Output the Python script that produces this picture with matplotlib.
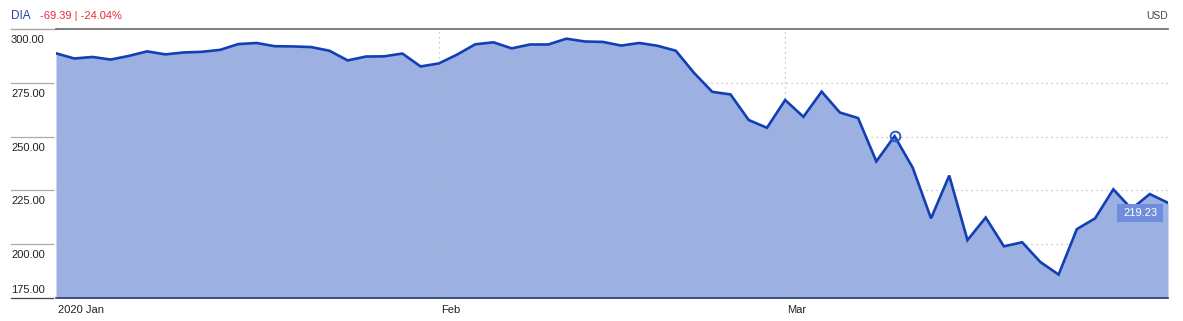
import matplotlib
matplotlib.use("Agg")
import matplotlib.pyplot as plt
import matplotlib.transforms as mtransforms
from matplotlib.lines import Line2D
from matplotlib.patches import Rectangle
from matplotlib import font_manager

names = {f.name for f in font_manager.fontManager.ttflist}
fam = ['Liberation Sans Narrow', 'DejaVu Sans'] if 'Liberation Sans Narrow' in names else ['Liberation Sans', 'DejaVu Sans']
plt.rcParams['font.family'] = fam
FS = 9.5 if fam[0] == 'Liberation Sans Narrow' else 8.0

# ---- data (DIA closes, Jan 2 – Mar 31 2020, trading days) ----
closes = [
    288.7, 286.3, 287.0, 285.8, 287.5, 289.6, 288.2, 289.1, 289.4, 290.3,
    293.0, 293.5, 292.0, 291.9, 291.6, 289.9, 285.4, 287.2, 287.3, 288.6,
    282.6,
    284.0, 288.1, 292.9, 293.8, 291.0, 292.8, 292.8, 295.5, 294.2, 294.0,
    292.3, 293.5, 292.2, 289.9, 279.6, 270.8, 269.6, 257.7, 254.1,
    267.0, 259.2, 270.9, 261.2, 258.6, 238.5, 250.2, 235.5, 212.0, 231.9,
    201.9, 212.4, 199.0, 200.9, 191.7, 185.9, 207.0, 212.0, 225.5, 216.4,
    223.3, 219.23,
]
month_labels = ["2020 Jan", "Feb", "Mar"]
month_start_idx = [0, 21, 40]
y_ticks = [300, 275, 250, 225, 200, 175]
y_tick_labels = ["300.00", "275.00", "250.00", "225.00", "200.00", "175.00"]
symbol = "DIA"
change_text = "-69.39 | -24.04%"
currency = "USD"
highlight_idx = 46
last_label = "219.23"

W, H = 1183, 321
fig = plt.figure(figsize=(W / 100, H / 100), dpi=100)
ax = fig.add_axes([56 / W, 1 - 298 / H, (1168 - 56) / W, (298 - 29) / H])

x = list(range(len(closes)))
ymin, ymax = 175, 300
fill_c = "#9cb0e2"
line_c = "#1240b4"

ax.fill_between(x, closes, ymin, color=fill_c, lw=0, zorder=1)
ax.plot(x, closes, color=line_c, lw=1.9, zorder=3, solid_joinstyle="miter")
ax.set_xlim(0, len(closes) - 1)
ax.set_ylim(ymin, ymax)

# dotted gridlines
for v in y_ticks[1:-1]:
    ax.axhline(v, color="#b8b8b8", lw=0.9, ls=(0, (1, 3)), zorder=2)
for i in month_start_idx[1:]:
    ax.axvline(i, color="#b8b8b8", lw=0.9, ls=(0, (1, 3)), zorder=2)

for s in ["left", "right"]:
    ax.spines[s].set_visible(False)
ax.spines["top"].set_color("#666666")
ax.spines["top"].set_linewidth(1.2)
ax.spines["bottom"].set_color("#2d3b6e")
ax.spines["bottom"].set_linewidth(1.2)
ax.set_xticks([])
ax.set_yticks([])

# y labels with short lines on the left
bt = mtransforms.blended_transform_factory(fig.transFigure, ax.transData)
for v, lab in zip(y_ticks, y_tick_labels):
    col = "#aaaaaa" if v != ymin else "#444444"
    ax.add_line(Line2D([11 / W, 53 / W], [v, v], transform=bt, color=col,
                       lw=0.9, clip_on=False))
    if v == ymin:
        off = mtransforms.offset_copy(bt, fig=fig, y=8 / 100 * 72, units="points")
    else:
        off = mtransforms.offset_copy(bt, fig=fig, y=-11 / 100 * 72, units="points")
    ax.text(11 / W, v, lab, transform=off, fontsize=FS, color="#222222",
            ha="left", va="center", clip_on=False)

# top line continuing to the left
ax.add_line(Line2D([11 / W, 56 / W], [ymax, ymax], transform=bt, color="#aaaaaa",
                   lw=0.9, clip_on=False))

# month labels
xt = mtransforms.blended_transform_factory(ax.transData, fig.transFigure)
for i, lab in zip(month_start_idx, month_labels):
    ax.text(i + 0.1, 1 - 310 / H, lab, transform=xt, fontsize=FS,
            color="#222222", ha="left", va="center", clip_on=False)

# highlighted point
ax.plot([highlight_idx], [closes[highlight_idx]], marker="o", ms=7,
        mfc="none", mec="#3358c4", mew=1.4, zorder=4, clip_on=False)

# last value label
fig.add_artist(Rectangle((1117 / W, 1 - 222 / H), 46 / W, 18 / H,
                         transform=fig.transFigure, fc="#6f8ddb", ec="none",
                         zorder=6))
fig.text(1140 / W, 1 - 213 / H, last_label, fontsize=FS, color="white",
         ha="center", va="center", zorder=7)

# header
fig.text(11 / W, 1 - 16 / H, symbol, fontsize=FS + 0.5, color="#23449c",
         ha="left", va="center")
fig.text(40 / W, 1 - 16 / H, change_text, fontsize=FS, color="#e8293a",
         ha="left", va="center")
fig.text(1168 / W, 1 - 16 / H, currency, fontsize=FS - 0.5, color="#444444",
         ha="right", va="center")

fig.savefig("out.png", dpi=100)
